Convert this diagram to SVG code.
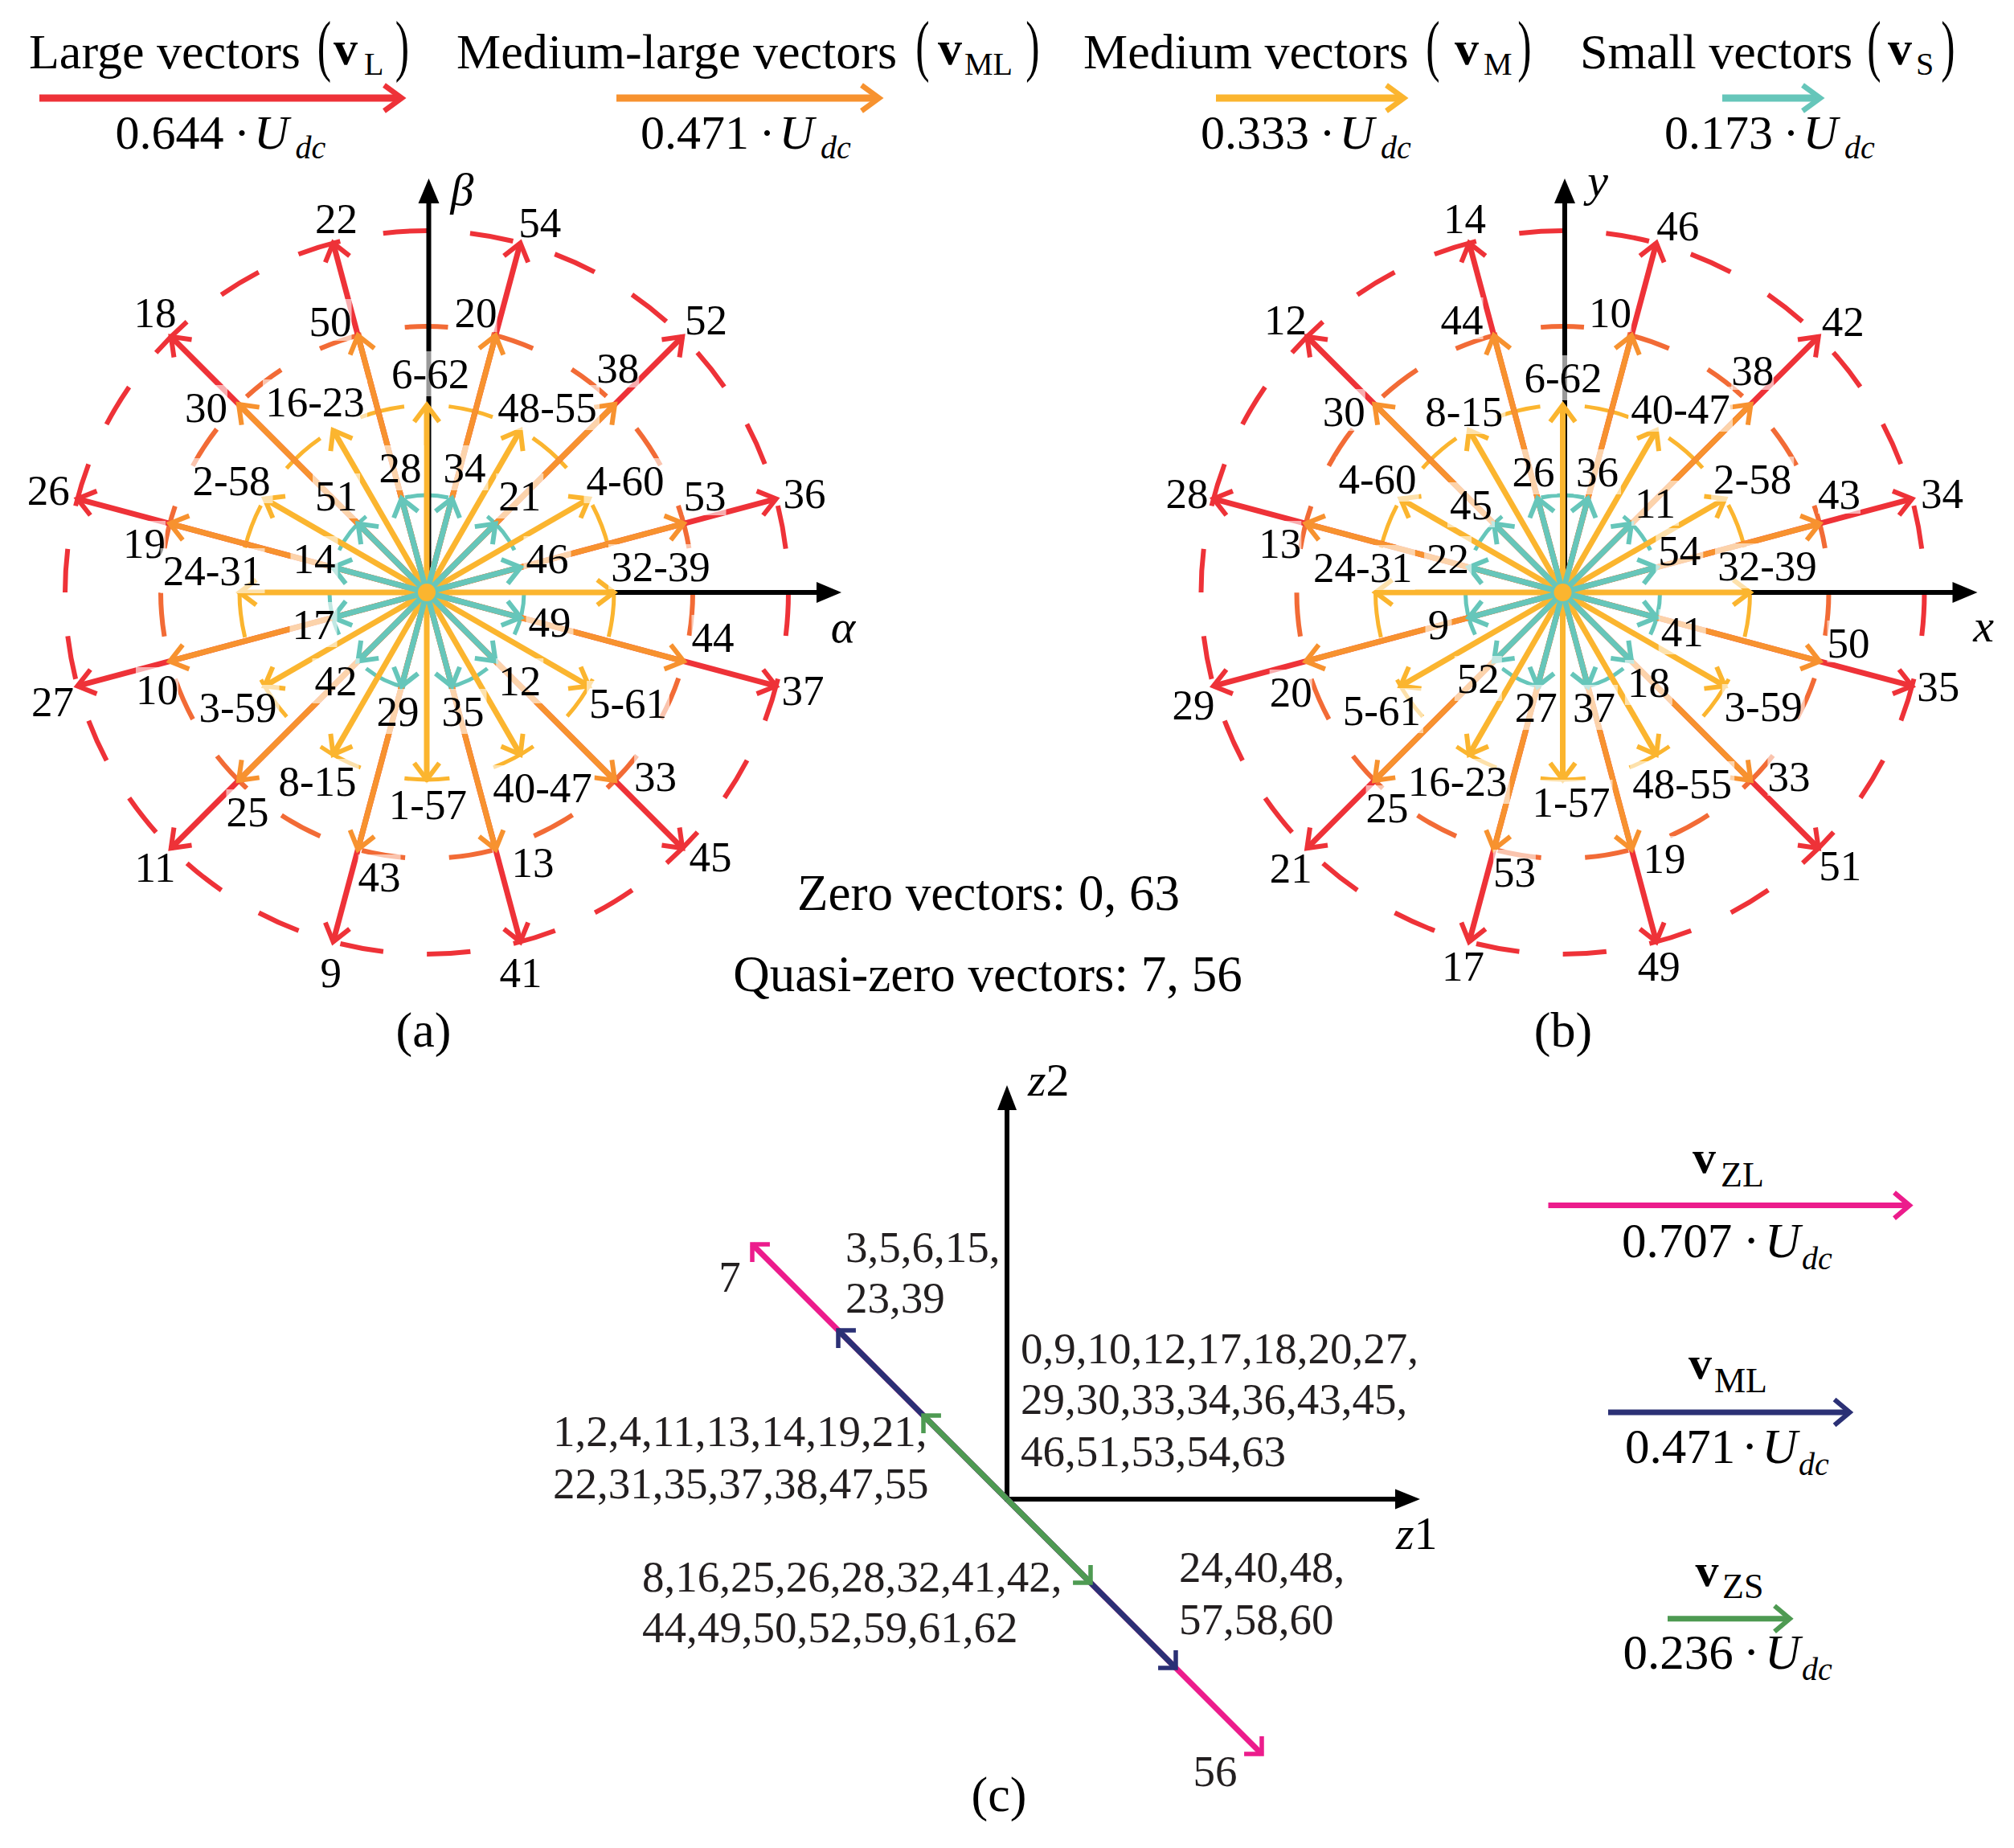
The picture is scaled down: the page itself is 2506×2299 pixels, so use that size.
<svg xmlns="http://www.w3.org/2000/svg" width="2506" height="2299" viewBox="0 0 2506 2299">
<style>
text{font-family:"Liberation Serif","Times New Roman",serif;fill:#000}
.t{font-size:53px;text-anchor:middle}
.bx{fill:#fff;fill-opacity:.6}
.lg{font-size:62px}
.par{font-size:84px;text-anchor:middle}
.bv{font-size:60px;font-weight:bold;text-anchor:middle}
.sb{font-size:40px}
.n{font-size:60px}
.n2{font-size:61px}
.i{font-style:italic}
.al{font-size:58px;font-style:italic;text-anchor:middle}
.c{font-size:55px;fill:#231F20}
.cap{font-size:62px;text-anchor:middle}
.ax{stroke:#000;stroke-width:6}
.cR{fill:none;stroke:#EE3238;stroke-width:6;stroke-dasharray:54.37 54.37}
.cO{fill:none;stroke:#F26B36;stroke-width:6;stroke-dasharray:54.73 54.73;stroke-dashoffset:27.37}
.cY{fill:none;stroke:#FBB52F;stroke-width:5;stroke-dasharray:56.31 56.31;stroke-dashoffset:84.46}
.cC{fill:none;stroke:#66C6BA;stroke-width:5;stroke-dasharray:54.3 54.3;stroke-dashoffset:27.15}
.sR{stroke:#EE3238;stroke-width:7;marker-end:url(#mR)}
.sO{stroke:#F7922F;stroke-width:7;marker-end:url(#mO)}
.sY{stroke:#FBB52F;stroke-width:7;marker-end:url(#mY)}
.sC{stroke:#66C6BA;stroke-width:7;marker-end:url(#mC)}
.lR{stroke:#EE3238;stroke-width:9;marker-end:url(#lR)}
.lO{stroke:#F7922F;stroke-width:9;marker-end:url(#lO)}
.lY{stroke:#FBB52F;stroke-width:9;marker-end:url(#lY)}
.lC{stroke:#66C6BA;stroke-width:9;marker-end:url(#lC)}
.dM{stroke:#EC1C8C;stroke-width:7;marker-end:url(#dM)}
.dN{stroke:#2B3075;stroke-width:7;marker-end:url(#dN)}
.dG{stroke:#4E9A52;stroke-width:7;marker-end:url(#dG)}
.kM{stroke:#EC1C8C;stroke-width:7;marker-end:url(#kM)}
.kN{stroke:#2B3075;stroke-width:7;marker-end:url(#kN)}
.kG{stroke:#4E9A52;stroke-width:7;marker-end:url(#kG)}
.ch{fill:none;stroke-linejoin:miter}
</style>
<defs>
<marker id="mR" markerUnits="userSpaceOnUse" orient="auto" overflow="visible"><path class="ch" d="M-20.8,-15.6L0,0L-20.8,15.6" stroke="#EE3238" stroke-width="6"/></marker>
<marker id="mO" markerUnits="userSpaceOnUse" orient="auto" overflow="visible"><path class="ch" d="M-20.8,-15.6L0,0L-20.8,15.6" stroke="#F7922F" stroke-width="6"/></marker>
<marker id="mY" markerUnits="userSpaceOnUse" orient="auto" overflow="visible"><path class="ch" d="M-20.8,-15.6L0,0L-20.8,15.6" stroke="#FBB52F" stroke-width="6"/></marker>
<marker id="mC" markerUnits="userSpaceOnUse" orient="auto" overflow="visible"><path class="ch" d="M-20.8,-15.6L0,0L-20.8,15.6" stroke="#66C6BA" stroke-width="6"/></marker>
<marker id="lR" markerUnits="userSpaceOnUse" orient="auto" overflow="visible" refX="-4" refY="0"><path class="ch" d="M-22,-16L0,0L-22,16" stroke="#EE3238" stroke-width="6.5"/></marker>
<marker id="lO" markerUnits="userSpaceOnUse" orient="auto" overflow="visible" refX="-4" refY="0"><path class="ch" d="M-22,-16L0,0L-22,16" stroke="#F7922F" stroke-width="6.5"/></marker>
<marker id="lY" markerUnits="userSpaceOnUse" orient="auto" overflow="visible" refX="-4" refY="0"><path class="ch" d="M-22,-16L0,0L-22,16" stroke="#FBB52F" stroke-width="6.5"/></marker>
<marker id="lC" markerUnits="userSpaceOnUse" orient="auto" overflow="visible" refX="-4" refY="0"><path class="ch" d="M-22,-16L0,0L-22,16" stroke="#66C6BA" stroke-width="6.5"/></marker>
<marker id="dM" markerUnits="userSpaceOnUse" orient="auto" overflow="visible"><path class="ch" d="M-15.5,-15.5L0,0L-15.5,15.5" stroke="#EC1C8C" stroke-width="5.5"/></marker>
<marker id="dN" markerUnits="userSpaceOnUse" orient="auto" overflow="visible"><path class="ch" d="M-15.5,-15.5L0,0L-15.5,15.5" stroke="#2B3075" stroke-width="5.5"/></marker>
<marker id="dG" markerUnits="userSpaceOnUse" orient="auto" overflow="visible"><path class="ch" d="M-15.5,-15.5L0,0L-15.5,15.5" stroke="#4E9A52" stroke-width="5.5"/></marker>
<marker id="kM" markerUnits="userSpaceOnUse" orient="auto" overflow="visible"><path class="ch" d="M-19,-16L0,0L-19,16" stroke="#EC1C8C" stroke-width="6"/></marker>
<marker id="kN" markerUnits="userSpaceOnUse" orient="auto" overflow="visible"><path class="ch" d="M-19,-16L0,0L-19,16" stroke="#2B3075" stroke-width="6"/></marker>
<marker id="kG" markerUnits="userSpaceOnUse" orient="auto" overflow="visible"><path class="ch" d="M-19,-16L0,0L-19,16" stroke="#4E9A52" stroke-width="6"/></marker>
<g id="star">
<path class="cR" d="M0,-450A450,450 0 1,0 0,450A450,450 0 1,0 0,-450"/>
<path class="cO" d="M0,-331A331,331 0 1,0 0,331A331,331 0 1,0 0,-331"/>
<path class="cY" d="M0,-233A233,233 0 1,0 0,233A233,233 0 1,0 0,-233"/>
<path class="cC" d="M0,-121A121,121 0 1,0 0,121A121,121 0 1,0 0,-121"/>
<line class="ax" x1="2.5" y1="0" x2="2.5" y2="-487"/>
<path d="M2.5,-515L-10.5,-484L15.5,-484Z" fill="#000"/>
<line class="ax" x1="0" y1="0" x2="488" y2="0"/>
<path d="M516,0L485,-13L485,13Z" fill="#000"/>
<line class="sR" x2="434.67" y2="-116.47"/><line class="sR" x2="318.2" y2="-318.2"/><line class="sR" x2="116.47" y2="-434.67"/><line class="sR" x2="-116.47" y2="-434.67"/><line class="sR" x2="-318.2" y2="-318.2"/><line class="sR" x2="-434.67" y2="-116.47"/><line class="sR" x2="-434.67" y2="116.47"/><line class="sR" x2="-318.2" y2="318.2"/><line class="sR" x2="-116.47" y2="434.67"/><line class="sR" x2="116.47" y2="434.67"/><line class="sR" x2="318.2" y2="318.2"/><line class="sR" x2="434.67" y2="116.47"/>
<line class="sO" x2="319.72" y2="-85.67"/><line class="sO" x2="234.05" y2="-234.05"/><line class="sO" x2="85.67" y2="-319.72"/><line class="sO" x2="-85.67" y2="-319.72"/><line class="sO" x2="-234.05" y2="-234.05"/><line class="sO" x2="-319.72" y2="-85.67"/><line class="sO" x2="-319.72" y2="85.67"/><line class="sO" x2="-234.05" y2="234.05"/><line class="sO" x2="-85.67" y2="319.72"/><line class="sO" x2="85.67" y2="319.72"/><line class="sO" x2="234.05" y2="234.05"/><line class="sO" x2="319.72" y2="85.67"/>
<line class="sY" x2="233" y2="0"/><line class="sY" x2="201.78" y2="-116.5"/><line class="sY" x2="116.5" y2="-201.78"/><line class="sY" x2="0" y2="-233"/><line class="sY" x2="-116.5" y2="-201.78"/><line class="sY" x2="-201.78" y2="-116.5"/><line class="sY" x2="-233" y2="0"/><line class="sY" x2="-201.78" y2="116.5"/><line class="sY" x2="-116.5" y2="201.78"/><line class="sY" x2="0" y2="233"/><line class="sY" x2="116.5" y2="201.78"/><line class="sY" x2="201.78" y2="116.5"/>
<line class="sC" x2="116.88" y2="-31.32"/><line class="sC" x2="85.56" y2="-85.56"/><line class="sC" x2="31.32" y2="-116.88"/><line class="sC" x2="-31.32" y2="-116.88"/><line class="sC" x2="-85.56" y2="-85.56"/><line class="sC" x2="-116.88" y2="-31.32"/><line class="sC" x2="-116.88" y2="31.32"/><line class="sC" x2="-85.56" y2="85.56"/><line class="sC" x2="-31.32" y2="116.88"/><line class="sC" x2="31.32" y2="116.88"/><line class="sC" x2="85.56" y2="85.56"/><line class="sC" x2="116.88" y2="31.32"/>
<circle r="11" fill="#FBB52F"/>
</g>
</defs>

<g id="legend-top">
<g id="leg-large">
<text class="lg" x="36" y="85">Large vectors</text>
<text class="par" transform="translate(403.5,85) scale(0.62,1)">(</text>
<text class="bv" x="430" y="80">v</text>
<text class="sb" x="453" y="93">L</text>
<text class="par" transform="translate(500.5,85) scale(0.62,1)">)</text>
<line class="lR" x1="49" y1="122" x2="496" y2="122"/>
<text class="n" y="185"><tspan x="143.5">0.644</tspan><tspan x="291">·</tspan><tspan x="316" class="i">U</tspan><tspan x="367.5" y="197" class="sb i">dc</tspan></text>
</g>
<g id="leg-ml">
<text class="lg" x="568" y="85">Medium-large vectors</text>
<text class="par" transform="translate(1148,85) scale(0.62,1)">(</text>
<text class="bv" x="1182" y="80">v</text>
<text class="sb" x="1200" y="93">ML</text>
<text class="par" transform="translate(1285,85) scale(0.62,1)">)</text>
<line class="lO" x1="767" y1="122" x2="1090" y2="122"/>
<text class="n" y="185"><tspan x="797">0.471</tspan><tspan x="944.5">·</tspan><tspan x="969.5" class="i">U</tspan><tspan x="1021" y="197" class="sb i">dc</tspan></text>
</g>
<g id="leg-m">
<text class="lg" x="1348" y="85">Medium vectors</text>
<text class="par" transform="translate(1783,85) scale(0.62,1)">(</text>
<text class="bv" x="1825" y="80">v</text>
<text class="sb" x="1846" y="93">M</text>
<text class="par" transform="translate(1897,85) scale(0.62,1)">)</text>
<line class="lY" x1="1513" y1="122" x2="1743" y2="122"/>
<text class="n" y="185"><tspan x="1494">0.333</tspan><tspan x="1641.5">·</tspan><tspan x="1666.5" class="i">U</tspan><tspan x="1718" y="197" class="sb i">dc</tspan></text>
</g>
<g id="leg-s">
<text class="lg" x="1966" y="85">Small vectors</text>
<text class="par" transform="translate(2332,85) scale(0.62,1)">(</text>
<text class="bv" x="2364" y="80">v</text>
<text class="sb" x="2384" y="93">S</text>
<text class="par" transform="translate(2424,85) scale(0.62,1)">)</text>
<line class="lC" x1="2143" y1="122" x2="2261" y2="122"/>
<text class="n" y="185"><tspan x="2071">0.173</tspan><tspan x="2218.5">·</tspan><tspan x="2243.5" class="i">U</tspan><tspan x="2295" y="197" class="sb i">dc</tspan></text>
</g>
</g>

<g id="diagram-a">
<use id="star-a" href="#star" x="531" y="737"/>
<text class="al" x="575" y="255">β</text>
<text class="al" x="1049" y="799">α</text>
<g id="a-red">
<text class="t" x="418.5" y="290">22</text><text class="t" x="671.7" y="295">54</text><text class="t" x="193" y="407">18</text><text class="t" x="878.6" y="416">52</text><text class="t" x="60.3" y="628">26</text><text class="t" x="1001" y="632">36</text><text class="t" x="65.6" y="891">27</text><text class="t" x="999" y="877">37</text><text class="t" x="193" y="1097">11</text><text class="t" x="884" y="1084">45</text><text class="t" x="411.8" y="1228">9</text><text class="t" x="648" y="1228">41</text>
</g>
<g id="a-orange">
<rect class="bx" x="384.5" y="372" width="53" height="52"/><text class="t" x="411" y="418">50</text>
<rect class="bx" x="565.5" y="361" width="53" height="52"/><text class="t" x="592" y="407">20</text>
<rect class="bx" x="230" y="479" width="53" height="52"/><text class="t" x="256.5" y="525">30</text>
<rect class="bx" x="742.3" y="430" width="53" height="52"/><text class="t" x="768.8" y="476">38</text>
<rect class="bx" x="153" y="648" width="53" height="52"/><text class="t" x="179.5" y="694">19</text>
<rect class="bx" x="850.5" y="589" width="53" height="52"/><text class="t" x="877" y="635">53</text>
<rect class="bx" x="169" y="830" width="53" height="52"/><text class="t" x="195.5" y="876">10</text>
<rect class="bx" x="860.5" y="765" width="53" height="52"/><text class="t" x="887" y="811">44</text>
<rect class="bx" x="281.5" y="982" width="53" height="52"/><text class="t" x="308" y="1028">25</text>
<rect class="bx" x="789.1" y="938" width="53" height="52"/><text class="t" x="815.6" y="984">33</text>
<rect class="bx" x="445.5" y="1063" width="53" height="52"/><text class="t" x="472" y="1109">43</text>
<rect class="bx" x="636.5" y="1045" width="53" height="52"/><text class="t" x="663" y="1091">13</text>
</g>
<g id="a-yellow">
<rect class="bx" x="484.2" y="437" width="103" height="56"/><text class="t" x="535.7" y="483">6-62</text>
<rect class="bx" x="327" y="472" width="130" height="56"/><text class="t" x="392" y="518">16-23</text>
<rect class="bx" x="616" y="479" width="130" height="56"/><text class="t" x="681" y="525">48-55</text>
<rect class="bx" x="236.5" y="570" width="103" height="56"/><text class="t" x="288" y="616">2-58</text>
<rect class="bx" x="726.5" y="570" width="103" height="56"/><text class="t" x="778" y="616">4-60</text>
<rect class="bx" x="199.5" y="682" width="130" height="56"/><text class="t" x="264.5" y="728">24-31</text>
<rect class="bx" x="757" y="677" width="130" height="56"/><text class="t" x="822" y="723">32-39</text>
<rect class="bx" x="244.5" y="852" width="103" height="56"/><text class="t" x="296" y="898">3-59</text>
<rect class="bx" x="730" y="847" width="103" height="56"/><text class="t" x="781.5" y="893">5-61</text>
<rect class="bx" x="343.5" y="944" width="103" height="56"/><text class="t" x="395" y="990">8-15</text>
<rect class="bx" x="610" y="952" width="130" height="56"/><text class="t" x="675" y="998">40-47</text>
<rect class="bx" x="480.9" y="973" width="103" height="56"/><text class="t" x="532.4" y="1019">1-57</text>
</g>
<g id="a-cyan">
<rect class="bx" x="468.5" y="554" width="59" height="56"/><text class="t" x="498" y="600">28</text>
<rect class="bx" x="548.5" y="554" width="59" height="56"/><text class="t" x="578" y="600">34</text>
<rect class="bx" x="389" y="589" width="59" height="56"/><text class="t" x="418.5" y="635">51</text>
<rect class="bx" x="617.2" y="589" width="59" height="56"/><text class="t" x="646.7" y="635">21</text>
<rect class="bx" x="361.5" y="667" width="59" height="56"/><text class="t" x="391" y="713">14</text>
<rect class="bx" x="651.5" y="667" width="59" height="56"/><text class="t" x="681" y="713">46</text>
<rect class="bx" x="360.5" y="749" width="59" height="56"/><text class="t" x="390" y="795">17</text>
<rect class="bx" x="654.5" y="746" width="59" height="56"/><text class="t" x="684" y="792">49</text>
<rect class="bx" x="388.5" y="819" width="59" height="56"/><text class="t" x="418" y="865">42</text>
<rect class="bx" x="617.2" y="819" width="59" height="56"/><text class="t" x="646.7" y="865">12</text>
<rect class="bx" x="465.5" y="857" width="59" height="56"/><text class="t" x="495" y="903">29</text>
<rect class="bx" x="546.5" y="857" width="59" height="56"/><text class="t" x="576" y="903">35</text>
</g>
<text class="cap" x="527" y="1302">(a)</text>
</g>

<g id="zero-notes">
<text x="1230" y="1132" font-size="63" text-anchor="middle">Zero vectors: 0, 63</text>
<text x="1229" y="1233" font-size="63" text-anchor="middle">Quasi-zero vectors: 7, 56</text>
</g>

<g id="diagram-b">
<use id="star-b" href="#star" x="1944.5" y="737"/>
<text class="al" x="1988" y="244">y</text>
<text class="al" x="2468" y="798">x</text>
<g id="b-red">
<text class="t" x="1822.4" y="290">14</text><text class="t" x="2087.8" y="299">46</text><text class="t" x="1599.5" y="416">12</text><text class="t" x="2293.2" y="418">42</text><text class="t" x="1477" y="632">28</text><text class="t" x="2416.5" y="632">34</text><text class="t" x="1485" y="895">29</text><text class="t" x="2411.8" y="872">35</text><text class="t" x="1606.2" y="1098">21</text><text class="t" x="2289.8" y="1095">51</text><text class="t" x="1820.4" y="1220">17</text><text class="t" x="2064.2" y="1220">49</text>
</g>
<g id="b-orange">
<rect class="bx" x="1792.5" y="370" width="53" height="52"/><text class="t" x="1819" y="416">44</text>
<rect class="bx" x="1977.1" y="361" width="53" height="52"/><text class="t" x="2003.6" y="407">10</text>
<rect class="bx" x="1645.8" y="484" width="53" height="52"/><text class="t" x="1672.3" y="530">30</text>
<rect class="bx" x="2154.2" y="433" width="53" height="52"/><text class="t" x="2180.7" y="479">38</text>
<rect class="bx" x="1566.3" y="648" width="53" height="52"/><text class="t" x="1592.8" y="694">13</text>
<rect class="bx" x="2262" y="587" width="53" height="52"/><text class="t" x="2288.5" y="633">43</text>
<rect class="bx" x="1579.7" y="833" width="53" height="52"/><text class="t" x="1606.2" y="879">20</text>
<rect class="bx" x="2273.5" y="772" width="53" height="52"/><text class="t" x="2300" y="818">50</text>
<rect class="bx" x="1699.6" y="977" width="53" height="52"/><text class="t" x="1726.1" y="1023">25</text>
<rect class="bx" x="2199.4" y="938" width="53" height="52"/><text class="t" x="2225.9" y="984">33</text>
<rect class="bx" x="1857.9" y="1057" width="53" height="52"/><text class="t" x="1884.4" y="1103">53</text>
<rect class="bx" x="2044.5" y="1040" width="53" height="52"/><text class="t" x="2071" y="1086">19</text>
</g>
<g id="b-yellow">
<rect class="bx" x="1893.5" y="442" width="103" height="56"/><text class="t" x="1945" y="488">6-62</text>
<rect class="bx" x="1770.3" y="484" width="103" height="56"/><text class="t" x="1821.8" y="530">8-15</text>
<rect class="bx" x="2026" y="481" width="130" height="56"/><text class="t" x="2091" y="527">40-47</text>
<rect class="bx" x="1662.5" y="568" width="103" height="56"/><text class="t" x="1714" y="614">4-60</text>
<rect class="bx" x="2129.2" y="568" width="103" height="56"/><text class="t" x="2180.7" y="614">2-58</text>
<rect class="bx" x="1630.8" y="678" width="130" height="56"/><text class="t" x="1695.8" y="724">24-31</text>
<rect class="bx" x="2134" y="676" width="130" height="56"/><text class="t" x="2199" y="722">32-39</text>
<rect class="bx" x="1667.9" y="856" width="103" height="56"/><text class="t" x="1719.4" y="902">5-61</text>
<rect class="bx" x="2142.7" y="851" width="103" height="56"/><text class="t" x="2194.2" y="897">3-59</text>
<rect class="bx" x="1748.7" y="944" width="130" height="56"/><text class="t" x="1813.7" y="990">16-23</text>
<rect class="bx" x="2028.2" y="947" width="130" height="56"/><text class="t" x="2093.2" y="993">48-55</text>
<rect class="bx" x="1903.5" y="970" width="103" height="56"/><text class="t" x="1955" y="1016">1-57</text>
</g>
<g id="b-cyan">
<rect class="bx" x="1878.5" y="559" width="59" height="56"/><text class="t" x="1908" y="605">26</text>
<rect class="bx" x="1958" y="559" width="59" height="56"/><text class="t" x="1987.5" y="605">36</text>
<rect class="bx" x="1801" y="600" width="59" height="56"/><text class="t" x="1830.5" y="646">45</text>
<rect class="bx" x="2030" y="598" width="59" height="56"/><text class="t" x="2059.5" y="644">11</text>
<rect class="bx" x="1772.1" y="667" width="59" height="56"/><text class="t" x="1801.6" y="713">22</text>
<rect class="bx" x="2060.3" y="657" width="59" height="56"/><text class="t" x="2089.8" y="703">54</text>
<rect class="bx" x="1773.5" y="749" width="33" height="56"/><text class="t" x="1790" y="795">9</text>
<rect class="bx" x="2063.7" y="758" width="59" height="56"/><text class="t" x="2093.2" y="804">41</text>
<rect class="bx" x="1809.8" y="816" width="59" height="56"/><text class="t" x="1839.3" y="862">52</text>
<rect class="bx" x="2021.9" y="821" width="59" height="56"/><text class="t" x="2051.4" y="867">18</text>
<rect class="bx" x="1881.8" y="852" width="59" height="56"/><text class="t" x="1911.3" y="898">27</text>
<rect class="bx" x="1953.9" y="852" width="59" height="56"/><text class="t" x="1983.4" y="898">37</text>
</g>
<text class="cap" x="1945" y="1302">(b)</text>
</g>

<g id="diagram-c">
<g id="c-axes">
<line class="ax" x1="1253" y1="1868" x2="1253" y2="1378"/>
<path d="M1253,1350L1241,1381L1265,1381Z" fill="#000"/>
<line class="ax" x1="1250" y1="1865" x2="1739" y2="1865"/>
<path d="M1767,1865L1736,1852.5L1736,1877.5Z" fill="#000"/>
<text x="1279" y="1363" font-size="58"><tspan class="i">z</tspan>2</text>
<text x="1737" y="1927" font-size="58"><tspan class="i">z</tspan>1</text>
</g>
<g id="c-vectors">
<line class="dM" x1="1253" y1="1865" x2="936" y2="1548"/>
<line class="dM" x1="1253" y1="1865" x2="1570" y2="2182"/>
<line class="dN" x1="1253" y1="1865" x2="1043" y2="1655"/>
<line class="dN" x1="1253" y1="1865" x2="1463" y2="2075"/>
<line class="dG" x1="1253" y1="1865" x2="1149" y2="1761"/>
<line class="dG" x1="1253" y1="1865" x2="1357" y2="1969"/>
</g>
<g id="c-labels">
<text class="c" x="908" y="1607" text-anchor="middle">7</text>
<text class="c" x="1052" y="1570">3,5,6,15,</text>
<text class="c" x="1052" y="1633">23,39</text>
<text class="c" x="1270" y="1696">0,9,10,12,17,18,20,27,</text>
<text class="c" x="1270" y="1759">29,30,33,34,36,43,45,</text>
<text class="c" x="1270" y="1824">46,51,53,54,63</text>
<text class="c" x="688" y="1799">1,2,4,11,13,14,19,21,</text>
<text class="c" x="688" y="1864">22,31,35,37,38,47,55</text>
<text class="c" x="799" y="1980">8,16,25,26,28,32,41,42,</text>
<text class="c" x="799" y="2043">44,49,50,52,59,61,62</text>
<text class="c" x="1467" y="1968">24,40,48,</text>
<text class="c" x="1467" y="2033">57,58,60</text>
<text class="c" x="1512" y="2222" text-anchor="middle">56</text>
</g>
<g id="c-legend">
<g id="leg-zl">
<text x="2106" y="1459" font-size="58" font-weight="bold">v</text>
<text x="2141" y="1476" font-size="44">ZL</text>
<line class="kM" x1="1926.5" y1="1499.6" x2="2376" y2="1499.6"/>
<text class="n2" y="1564"><tspan x="2018">0.707</tspan><tspan x="2169">·</tspan><tspan x="2196" class="i">U</tspan><tspan x="2242" y="1578.5" class="sb i">dc</tspan></text>
</g>
<g id="leg-zml">
<text x="2101" y="1715" font-size="58" font-weight="bold">v</text>
<text x="2133" y="1731.6" font-size="44">ML</text>
<line class="kN" x1="2001" y1="1757" x2="2301.6" y2="1757"/>
<text class="n2" y="1820"><tspan x="2022">0.471</tspan><tspan x="2167">·</tspan><tspan x="2192.5" class="i">U</tspan><tspan x="2238" y="1834.5" class="sb i">dc</tspan></text>
</g>
<g id="leg-zs">
<text x="2109.5" y="1973" font-size="58" font-weight="bold">v</text>
<text x="2143" y="1988" font-size="44">ZS</text>
<line class="kG" x1="2075" y1="2013.7" x2="2227" y2="2013.7"/>
<text class="n2" y="2076"><tspan x="2019.5">0.236</tspan><tspan x="2169">·</tspan><tspan x="2196" class="i">U</tspan><tspan x="2242" y="2090" class="sb i">dc</tspan></text>
</g>
</g>
<text class="cap" x="1243" y="2253">(c)</text>
</g>
</svg>
